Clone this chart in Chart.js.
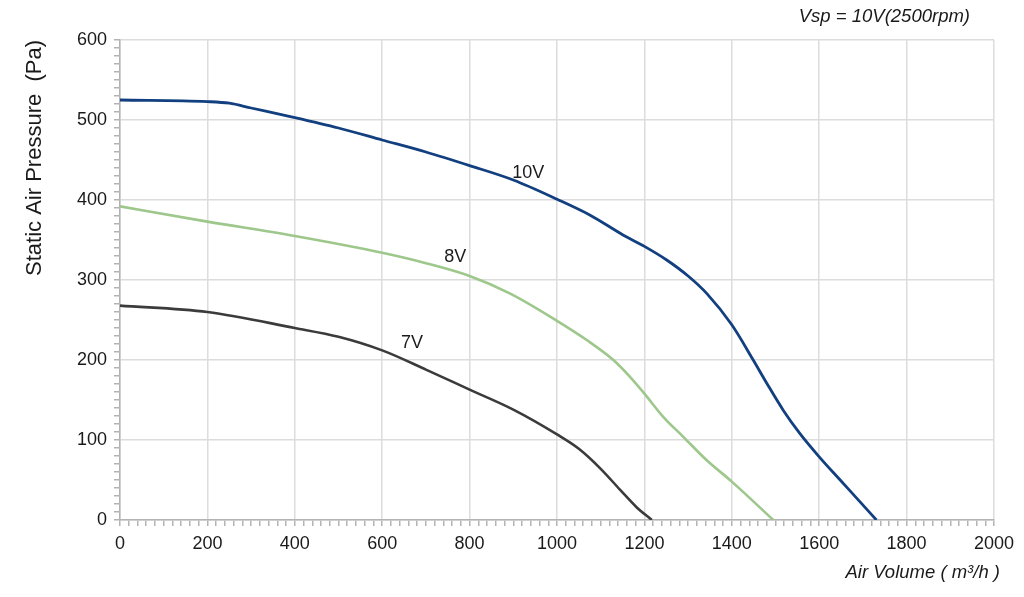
<!DOCTYPE html>
<html>
<head>
<meta charset="utf-8">
<script src="https://cdn.jsdelivr.net/npm/chart.js@4"></script>
<style>
  html, body { margin: 0; padding: 0; background: #fff; }
  #wrap { width: 1024px; height: 597px; position: relative; }
</style>
</head>
<body>
<div id="wrap"><canvas id="fanChart"></canvas></div>
<script>
// ---- data (air volume m3/h -> static pressure Pa) ----
var VOL_10V = [0, 200, 250, 300, 400, 500, 600, 700, 800, 900, 1000, 1076, 1152, 1200, 1251, 1300, 1343, 1400, 1449, 1480, 1518, 1556, 1600, 1648, 1693, 1731];
var PA_10V  = [525, 523, 521, 515, 503, 490, 475, 460, 443, 425, 401, 381, 356, 342, 325, 305, 283, 244, 200, 171, 137, 108, 79, 50, 23, 0];

var VOL_8V = [0, 200, 400, 600, 700, 800, 893, 1000, 1068, 1129, 1167, 1200, 1243, 1289, 1342, 1400, 1495];
var PA_8V  = [392, 373, 355, 334, 321, 305, 283, 249, 225, 200, 179, 158, 129, 104, 75, 48, 0];

var VOL_7V = [0, 200, 400, 500, 600, 700, 800, 900, 1000, 1050, 1100, 1144, 1182, 1217];
var PA_7V  = [268, 260, 240, 229, 212, 188, 163, 138, 107, 89, 64, 38, 16, 0];

var SERIES_NAMES = ['10V', '8V', '7V'];
var LABEL_AT = [[934, 434], [767, 329], [668, 221]];   // where the curve names sit (data coords)

var X_MAX = 2000, X_MAJOR = 200, X_MINOR = 20;
var Y_MAX = 600, Y_MAJOR = 100, Y_MINOR = 10;

var TOP_NOTE = 'Vsp = 10V(2500rpm)';
var X_TITLE = 'Air Volume ( m\u00b3/h )';
var Y_TITLE = 'Static Air Pressure  (Pa)';

var BLUE  = '#113f7f';
var GREEN = '#9dc78b';
var DARK  = '#3b3b3b';
var GRID  = '#dcdcdc';
var AXIS  = '#b3b3b3';
var TEXT  = '#1a1a1a';
var FONT  = "'Liberation Sans', Arial, Helvetica, sans-serif";

function pts(xs, ys) {
  return xs.map(function (x, i) { return { x: x, y: ys[i] }; });
}

function curve(label, xs, ys, color, width) {
  return {
    label: label, data: pts(xs, ys), showLine: true,
    borderColor: color, backgroundColor: color, borderWidth: width,
    pointRadius: 0, cubicInterpolationMode: 'monotone', fill: false
  };
}

// texts that are not part of an axis: the note on top, axis titles, curve names
var textPlugin = {
  id: 'texts',
  afterDraw: function (chart) {
    var ctx = chart.ctx, xs = chart.scales.x, ys = chart.scales.y;
    ctx.save();
    ctx.fillStyle = TEXT;
    ctx.textBaseline = 'middle';

    ctx.font = 'italic 18.5px ' + FONT;
    ctx.textAlign = 'right';
    ctx.fillText(TOP_NOTE, 970, 17);
    ctx.fillText(X_TITLE, 1000, 573);

    ctx.save();
    ctx.translate(35, 158);
    ctx.rotate(-Math.PI / 2);
    ctx.textAlign = 'center';
    ctx.font = '22px ' + FONT;
    ctx.fillText(Y_TITLE, 0, 0);
    ctx.restore();

    ctx.font = '18px ' + FONT;
    ctx.textAlign = 'center';
    SERIES_NAMES.forEach(function (name, i) {
      ctx.fillText(name, xs.getPixelForValue(LABEL_AT[i][0]), ys.getPixelForValue(LABEL_AT[i][1]));
    });
    ctx.restore();
  }
};

Chart.defaults.font.family = FONT;
Chart.defaults.color = TEXT;

new Chart(document.getElementById('fanChart'), {
  type: 'scatter',
  data: {
    datasets: [
      curve(SERIES_NAMES[0], VOL_10V, PA_10V, BLUE, 2.8),
      curve(SERIES_NAMES[1], VOL_8V, PA_8V, GREEN, 2.6),
      curve(SERIES_NAMES[2], VOL_7V, PA_7V, DARK, 2.6)
    ]
  },
  options: {
    responsive: true, maintainAspectRatio: false, animation: false,
    layout: { padding: { top: 40, right: 30, left: 0, bottom: 0 } },
    plugins: { legend: { display: false }, tooltip: { enabled: false } },
    scales: {
      x: {
        type: 'linear', min: 0, max: X_MAX,
        afterFit: function (s) { s.height = 77; },
        border: { color: AXIS, width: 1.5 },
        grid: {
          color: function (c) { return Math.round(c.tick.value) % X_MAJOR === 0 ? GRID : 'rgba(0,0,0,0)'; },
          lineWidth: 1.5, tickColor: AXIS, tickLength: 6, drawTicks: true
        },
        ticks: {
          stepSize: X_MINOR, autoSkip: false, maxRotation: 0, padding: 7,
          font: { size: 18 }, color: TEXT,
          callback: function (v) { return Math.round(v) % X_MAJOR === 0 ? String(Math.round(v)) : ''; }
        }
      },
      y: {
        type: 'linear', min: 0, max: Y_MAX,
        afterFit: function (s) { s.width = 120; },
        border: { color: AXIS, width: 1.5 },
        grid: {
          color: function (c) { return Math.round(c.tick.value) % Y_MAJOR === 0 ? GRID : 'rgba(0,0,0,0)'; },
          lineWidth: 1.5, tickColor: AXIS, tickLength: 6, drawTicks: true
        },
        ticks: {
          stepSize: Y_MINOR, autoSkip: false, padding: 7,
          font: { size: 18 }, color: TEXT,
          callback: function (v) { return Math.round(v) % Y_MAJOR === 0 ? String(Math.round(v)) : ''; }
        }
      }
    }
  },
  plugins: [textPlugin]
});
</script>
</body>
</html>
